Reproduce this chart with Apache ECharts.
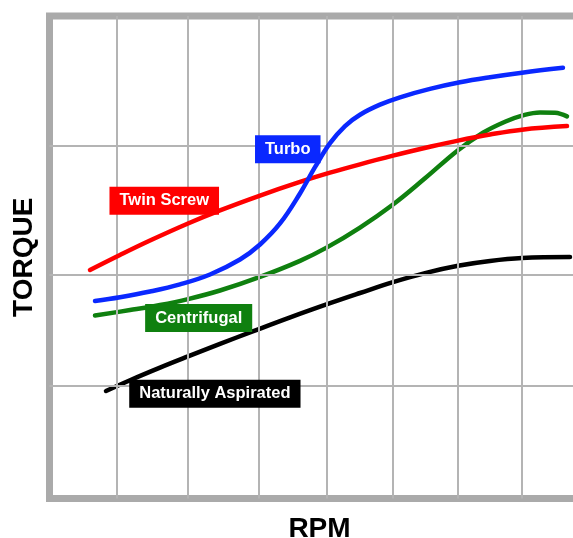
<!DOCTYPE html>
<html>
<head>
<meta charset="utf-8">
<script src="https://cdn.jsdelivr.net/npm/echarts@6/dist/echarts.min.js"></script>
<style>
html,body{margin:0;padding:0;background:#fff;}
#chart{width:573px;height:538px;}
</style>
</head>
<body>
<div id="chart"></div>
<script>
// x in RPM grid units, y in torque (% of axis height)
const twinScrew = [[0.600,47.36],[1.044,50.47],[1.489,53.46],[2.052,56.99],[2.526,59.71],[3.119,62.78],[3.711,65.60],[4.156,67.52],[4.600,69.26],[5.089,71.05],[5.637,72.89],[6.052,74.18],[6.526,75.44],[7.000,76.44],[7.667,77.18]];
const turbo = [[0.674,40.93],[1.044,41.71],[1.489,42.89],[1.933,44.38],[2.378,46.43],[2.822,49.54],[3.119,52.65],[3.415,57.00],[3.711,63.22],[3.933,68.66],[4.156,73.64],[4.378,77.20],[4.600,79.54],[4.896,81.62],[5.193,83.15],[5.637,84.89],[6.081,86.26],[6.526,87.31],[7.000,88.25],[7.607,89.26]];
const centrifugal = [[0.674,37.93],[1.193,39.05],[1.637,40.10],[2.052,41.33],[2.526,43.11],[3.119,45.93],[3.711,49.25],[4.111,52.04],[4.600,56.15],[5.089,60.93],[5.563,66.36],[6.052,72.19],[6.422,75.81],[6.748,78.09],[7.000,79.36],[7.267,80.02],[7.489,79.94],[7.667,79.19]];
const naturallyAspirated = [[0.837,22.28],[1.193,24.52],[1.637,27.13],[2.052,29.45],[2.526,32.04],[3.000,34.57],[3.556,37.49],[4.156,40.48],[4.600,42.59],[5.089,44.85],[5.563,46.72],[6.052,48.23],[6.526,49.22],[7.000,49.82],[7.711,50.03]];
const gridX = [1.0, 2.05, 3.10, 4.11, 5.09, 6.05, 7.0];
const gridY = [23.3, 46.3, 73.1];
const labelPos = {
  'Twin Screw': [1.70, 61.7],
  'Turbo': [3.53, 72.4],
  'Centrifugal': [2.21, 37.4],
  'Naturally Aspirated': [2.45, 21.7]
};
const colors = {
  'Twin Screw': '#ff0000',
  'Turbo': '#0a28ff',
  'Centrifugal': '#0f800f',
  'Naturally Aspirated': '#000000'
};

const FONT = "'Liberation Sans', Arial, Helvetica, sans-serif";

function lineSeries(name, data, z) {
  return {
    name: name,
    type: 'line',
    data: data,
    smooth: 0.4,
    symbol: 'none',
    z: z,
    lineStyle: { color: colors[name], width: 4.5, cap: 'round', join: 'round' },
    silent: true
  };
}
function labelSeries(name) {
  return {
    name: name + ' label',
    type: 'scatter',
    z: 20,
    symbolSize: 0,
    data: [labelPos[name]],
    silent: true,
    itemStyle: { opacity: 1 },
    label: {
      show: true,
      position: 'inside',
      formatter: name,
      color: '#ffffff',
      opacity: 1,
      fontFamily: FONT,
      fontWeight: 'bold',
      fontSize: 16.5,
      lineHeight: 18,
      backgroundColor: colors[name],
      padding: [5, 10]
    }
  };
}

const chart = echarts.init(document.getElementById('chart'));
chart.setOption({
  animation: false,
  backgroundColor: '#fff',
  grid: {
    left: 49.5, top: 16, bottom: 39.5, width: 540,
    outerBoundsMode: 'none',
    containLabel: false,
    show: true, borderColor: '#aaaaaa', borderWidth: 7, backgroundColor: '#fff'
  },
  xAxis: {
    type: 'value', min: 0, max: 8,
    name: 'RPM', nameLocation: 'middle', nameGap: 16.5,
    nameTextStyle: { fontFamily: FONT, fontWeight: 'bold', fontSize: 28, color: '#000' },
    axisLine: { show: false }, axisTick: { show: false }, axisLabel: { show: false }, splitLine: { show: false }
  },
  yAxis: {
    type: 'value', min: 0, max: 100,
    name: 'TORQUE', nameLocation: 'middle', nameGap: 11,
    nameTextStyle: { fontFamily: FONT, fontWeight: 'bold', fontSize: 28, color: '#000' },
    axisLine: { show: false }, axisTick: { show: false }, axisLabel: { show: false }, splitLine: { show: false }
  },
  series: [
    {
      type: 'line', data: [], z: 1, silent: true,
      markLine: {
        silent: true, symbol: 'none', label: { show: false },
        lineStyle: { color: '#b4b4b4', width: 2, type: 'solid' },
        data: gridX.map(v => ({ xAxis: v })).concat(gridY.map(v => ({ yAxis: v })))
      }
    },
    lineSeries('Naturally Aspirated', naturallyAspirated, 3),
    lineSeries('Centrifugal', centrifugal, 4),
    lineSeries('Twin Screw', twinScrew, 5),
    lineSeries('Turbo', turbo, 6),
    labelSeries('Twin Screw'),
    labelSeries('Turbo'),
    labelSeries('Centrifugal'),
    labelSeries('Naturally Aspirated')
  ]
});
</script>
</body>
</html>
